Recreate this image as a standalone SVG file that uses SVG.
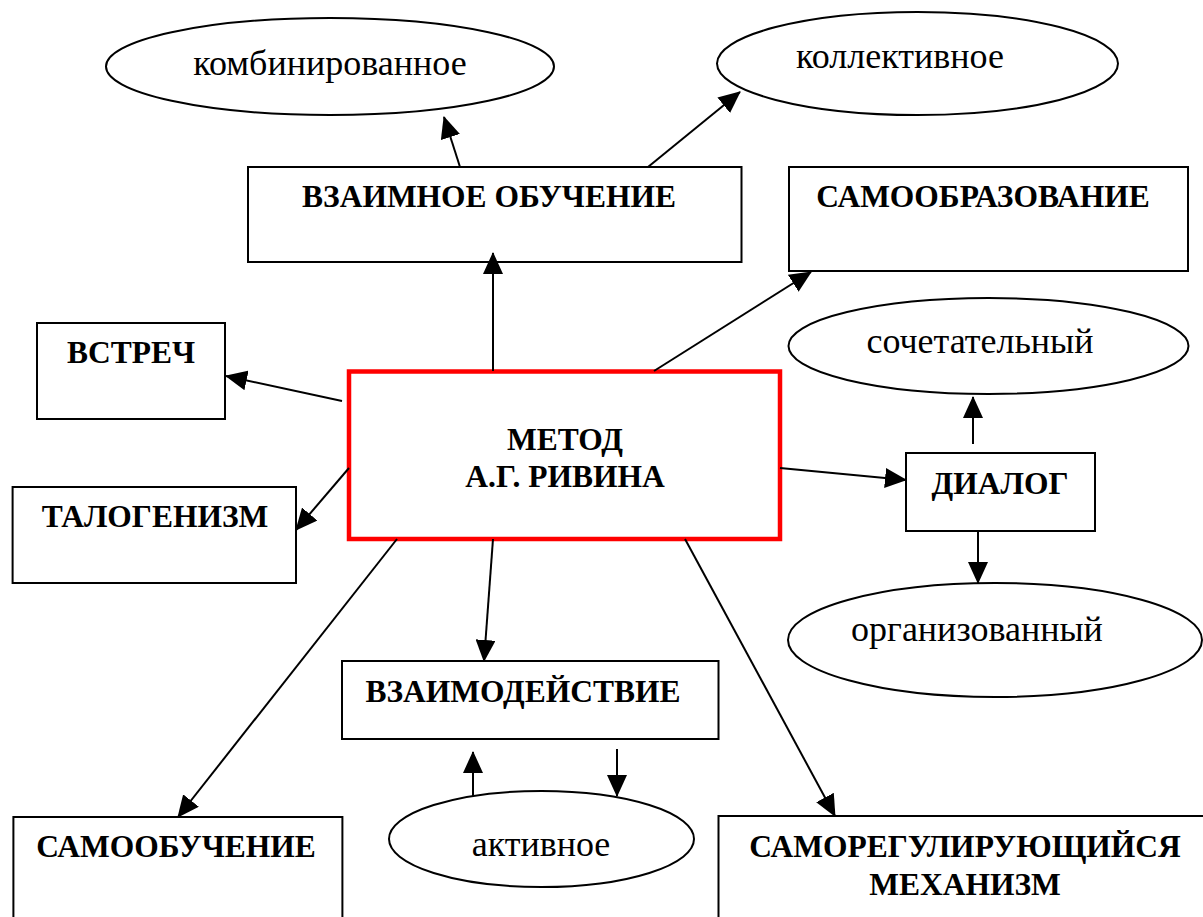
<svg xmlns="http://www.w3.org/2000/svg" width="1203" height="917" viewBox="0 0 1203 917" font-family="Liberation Serif, Times New Roman, DejaVu Serif, serif">
<style>
.box{fill:#fff;stroke:#000;stroke-width:2}
.ell{fill:#fff;stroke:#000;stroke-width:2}
.main{fill:#fff;stroke:#ff0000;stroke-width:4.5}
.b{font-weight:bold;font-size:31.5px;text-anchor:middle;fill:#000}
.r{font-size:36px;text-anchor:middle;fill:#000}
.c{stroke:#000;stroke-width:2;fill:none;marker-end:url(#ah)}
</style>
<defs>
<marker id="ah" markerUnits="userSpaceOnUse" markerWidth="22" markerHeight="20" refX="21" refY="10" orient="auto" viewBox="0 0 22 20">
<path d="M0,0 L22,10 L0,20 z" fill="#000"/>
</marker>
</defs>
<rect width="1203" height="917" fill="#fff"/>
<g id="n-kombinirovannoe"><ellipse class="ell" cx="330" cy="66.5" rx="224" ry="48.5"/><text class="r" x="330" y="75">комбинированное</text></g>
<g id="n-kollektivnoe"><ellipse class="ell" cx="917.5" cy="63.5" rx="200.5" ry="51.5"/><text class="r" x="900" y="68">коллективное</text></g>
<g id="n-vzaimnoe"><rect class="box" x="248" y="167" width="493.5" height="95"/><text class="b" x="489" y="207">ВЗАИМНОЕ ОБУЧЕНИЕ</text></g>
<g id="n-samoobrazovanie"><rect class="box" x="789" y="167" width="399" height="104"/><text class="b" x="983" y="207">САМООБРАЗОВАНИЕ</text></g>
<g id="n-vstrech"><rect class="box" x="37" y="323" width="188" height="96"/><text class="b" x="131" y="363">ВСТРЕЧ</text></g>
<g id="n-sochetatelny"><ellipse class="ell" cx="988.5" cy="346" rx="200" ry="48"/><text class="r" x="980" y="353">сочетательный</text></g>
<g id="n-metod"><rect class="main" x="349" y="371.5" width="431" height="167.5"/><text class="b" x="565" y="450">МЕТОД</text><text class="b" x="565" y="487">А.Г. РИВИНА</text></g>
<g id="n-dialog"><rect class="box" x="906" y="453" width="189" height="78"/><text class="b" x="1000" y="494">ДИАЛОГ</text></g>
<g id="n-talogenizm"><rect class="box" x="12.6" y="487" width="283.4" height="96"/><text class="b" x="155" y="527">ТАЛОГЕНИЗМ</text></g>
<g id="n-organizovanny"><ellipse class="ell" cx="995" cy="640" rx="207" ry="57"/><text class="r" x="977" y="641">организованный</text></g>
<g id="n-vzaimodeistvie"><rect class="box" x="342" y="661" width="376.5" height="78"/><text class="b" x="523" y="702">ВЗАИМОДЕЙСТВИЕ</text></g>
<g id="n-aktivnoe"><ellipse class="ell" cx="541.5" cy="839" rx="152.5" ry="48"/><text class="r" x="541" y="856">активное</text></g>
<g id="n-samoobuchenie"><rect class="box" x="13.4" y="817" width="329" height="130"/><text class="b" x="176" y="857">САМООБУЧЕНИЕ</text></g>
<g id="n-samoreg"><rect class="box" x="718.5" y="816" width="490" height="130"/><text class="b" x="965" y="857">САМОРЕГУЛИРУЮЩИЙСЯ</text><text class="b" x="965" y="895">МЕХАНИЗМ</text></g>
<g id="connectors">
<line class="c" x1="460" y1="167" x2="444" y2="117"/>
<line class="c" x1="648" y1="167" x2="740" y2="92"/>
<line class="c" x1="493" y1="371" x2="493" y2="253"/>
<line class="c" x1="654" y1="371" x2="811" y2="272"/>
<line class="c" x1="342" y1="401" x2="226" y2="376"/>
<line class="c" x1="349" y1="468" x2="296" y2="530"/>
<line class="c" x1="780" y1="468" x2="906" y2="480"/>
<line class="c" x1="973" y1="444" x2="973" y2="397"/>
<line class="c" x1="978" y1="531" x2="978" y2="583"/>
<line class="c" x1="397" y1="539" x2="178" y2="817"/>
<line class="c" x1="493" y1="539" x2="484" y2="661"/>
<line class="c" x1="685" y1="539" x2="835" y2="816"/>
<line class="c" x1="473" y1="797" x2="473" y2="752"/>
<line class="c" x1="617" y1="749" x2="617" y2="796"/>
</g>
</svg>
